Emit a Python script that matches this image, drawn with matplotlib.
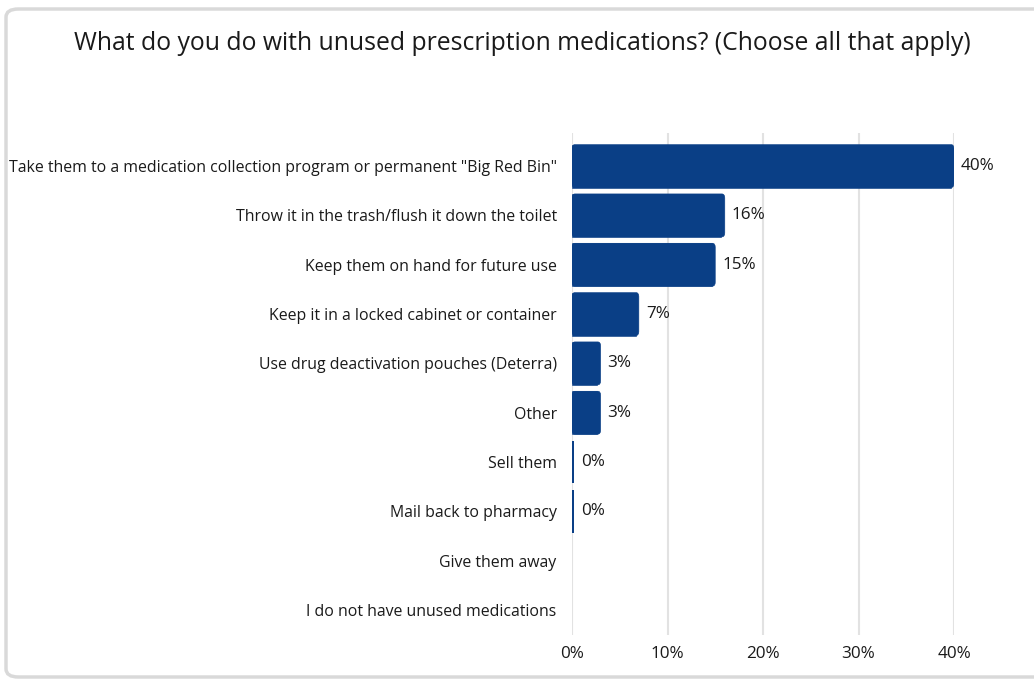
import matplotlib.pyplot as plt
from matplotlib.patches import FancyBboxPatch, Rectangle

plt.rcParams['font.family'] = ['Open Sans', 'DejaVu Sans']

# 调查选项与占比(%)
options = [
    'Take them to a medication collection program or permanent "Big Red Bin"',
    'Throw it in the trash/flush it down the toilet',
    'Keep them on hand for future use',
    'Keep it in a locked cabinet or container',
    'Use drug deactivation pouches (Deterra)',
    'Other',
    'Sell them',
    'Mail back to pharmacy',
    'Give them away',
    'I do not have unused medications',
]
shares = [40, 16, 15, 7, 3, 3, 0.2, 0.2, 0, 0]
xticks = [0, 10, 20, 30, 40]

bar_color = '#0a3f86'
grid_color = '#e2e2e2'
text_color = '#1a1a1a'

fig = plt.figure(figsize=(10.34, 6.81), dpi=100)

# 外框(圆角灰边)
frame = FancyBboxPatch((6 / 1034, 4 / 681), 1.2, 668 / 681,
                       boxstyle='round,pad=0,rounding_size=0.012',
                       transform=fig.transFigure, facecolor='white',
                       edgecolor='#d9d9d9', linewidth=2.5, zorder=-1)
fig.patches.append(frame)

fig.text(522 / 1034, 1 - 44 / 681,
         'What do you do with unused prescription medications? (Choose all that apply)',
         ha='center', va='center', fontsize=17.8, color=text_color)

ax = fig.add_axes([572 / 1034, 1 - 634.7 / 681, 382 / 1034, 501.7 / 681])
ax.set_facecolor('none')

y = list(range(len(options)))
bars = ax.barh(y, shares, height=0.87, color=bar_color, zorder=3)

# 条形右端小圆角,左端保持直角
for b in bars:
    w = b.get_width()
    if w > 1:
        x0, y0 = b.get_xy()
        h = b.get_height()
        b.set_visible(False)
        ax.add_patch(FancyBboxPatch((x0, y0), w, h,
                                    boxstyle='round,pad=0,rounding_size=0.3',
                                    mutation_aspect=1 / 3.8,
                                    facecolor=bar_color, edgecolor=bar_color,
                                    linewidth=0.4, zorder=3))
        ax.add_patch(Rectangle((x0, y0), w - 0.35, h, facecolor=bar_color,
                               edgecolor=bar_color, linewidth=0.4, zorder=3))

# 数值标签(为0的选项不标注)
for yi, v in zip(y, shares):
    if v > 0:
        ax.annotate(f'{v:.0f}%', (v, yi), xytext=(5, 0), textcoords='offset points',
                    ha='left', va='center', fontsize=12.3, color=text_color,
                    annotation_clip=False)

ax.set_xlim(0, 40)
ax.set_ylim(9.5, -0.67)
ax.set_xticks(xticks)
ax.set_xticklabels([f'{t}%' for t in xticks])
ax.set_yticks(y)
ax.set_yticklabels(options)
ax.tick_params(axis='y', length=0, pad=11, labelsize=11.4, labelcolor=text_color)
ax.tick_params(axis='x', length=0, pad=8, labelsize=12.3, labelcolor=text_color)
ax.xaxis.grid(True, color=grid_color, linewidth=1.5, zorder=0)
for s in ax.spines.values():
    s.set_visible(False)

fig.savefig('out.png', dpi=100)
